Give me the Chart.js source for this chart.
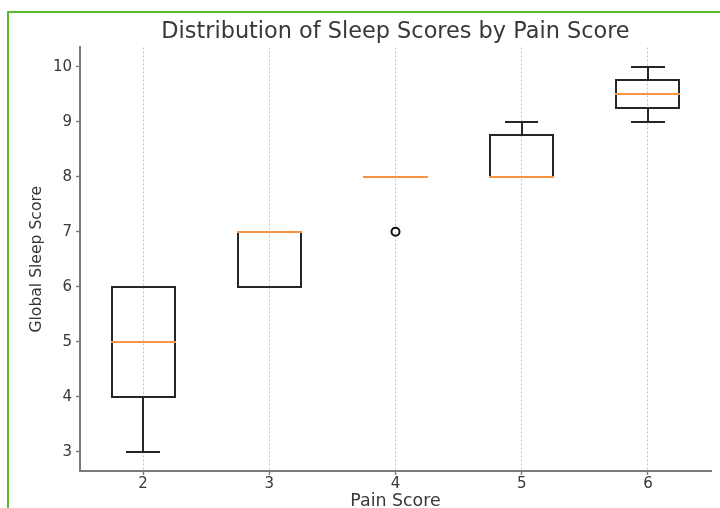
<!DOCTYPE html>
<html>
<head>
<meta charset="utf-8">
<title>Distribution of Sleep Scores by Pain Score</title>
<script src="https://cdn.jsdelivr.net/npm/chart.js@4.4.1/dist/chart.umd.min.js"></script>
<style>
  html, body { margin: 0; padding: 0; background: #ffffff; overflow: hidden; }
  #frame {
    position: absolute; left: 7px; top: 11px; width: 760px; height: 560px;
    border: 2px solid #5cb82f; box-sizing: border-box;
  }
  #chart { position: absolute; left: 0; top: 0; }
</style>
</head>
<body>
<div id="frame"></div>
<canvas id="chart" width="720" height="508"></canvas>
<script>
// Pain score groups along the x axis
const painScores = [2, 3, 4, 5, 6];

// Five-number summaries of the Global Sleep Score per pain group
const whiskerLow  = [3, 6, 8, 8, 9];
const quartile1   = [4, 6, 8, 8, 9.25];
const medians     = [5, 7, 8, 8, 9.5];
const quartile3   = [6, 7, 8, 8.75, 9.75];
const whiskerHigh = [6, 7, 8, 9, 10];

// Points lying outside the whiskers
const outlierPain  = [4];
const outlierSleep = [7];

// Tick values
const xTickValues = [2, 3, 4, 5, 6];
const yTickValues = [3, 4, 5, 6, 7, 8, 9, 10];

const FONT = "'DejaVu Sans', 'Liberation Sans', sans-serif";
const TEXT = '#383838';
const SPINE = '#7a7a7a';
const BOX_COLOR = '#262626';
const MEDIAN_COLOR = '#f79443';
const BOX_WIDTH = 0.5;   // in x-axis units
const CAP_WIDTH = 0.25;
const LINE_W = 2;

// Draws boxes, whiskers, caps and medians using the chart's scales
const boxPlotPlugin = {
  id: 'boxPlot',
  beforeDatasetsDraw(chart) {
    const { ctx, scales: { x, y } } = chart;
    // whole-pixel positions keep 2px strokes crisp and let the median fully cover box edges
    const px = v => Math.round(x.getPixelForValue(v));
    const py = v => Math.round(y.getPixelForValue(v));
    const seg = (x0, y0, x1, y1, color) => {
      ctx.strokeStyle = color;
      ctx.beginPath();
      ctx.moveTo(x0, y0);
      ctx.lineTo(x1, y1);
      ctx.stroke();
    };
    ctx.save();
    ctx.lineWidth = LINE_W;
    ctx.lineCap = 'square';
    painScores.forEach((p, i) => {
      const L = px(p - BOX_WIDTH / 2), R = px(p + BOX_WIDTH / 2);
      const cL = px(p - CAP_WIDTH / 2), cR = px(p + CAP_WIDTH / 2);
      const c = px(p);
      const top = py(quartile3[i]), bot = py(quartile1[i]);
      // box edges
      seg(L, top, R, top, BOX_COLOR);
      seg(L, bot, R, bot, BOX_COLOR);
      seg(L, top, L, bot, BOX_COLOR);
      seg(R, top, R, bot, BOX_COLOR);
      // whiskers
      seg(c, bot, c, py(whiskerLow[i]), BOX_COLOR);
      seg(c, top, c, py(whiskerHigh[i]), BOX_COLOR);
      // caps
      seg(cL, py(whiskerLow[i]), cR, py(whiskerLow[i]), BOX_COLOR);
      seg(cL, py(whiskerHigh[i]), cR, py(whiskerHigh[i]), BOX_COLOR);
    });
    // medians on top
    ctx.lineCap = 'butt';
    painScores.forEach((p, i) => {
      const L = px(p - BOX_WIDTH / 2) - 1, R = px(p + BOX_WIDTH / 2) + 1;
      seg(L, py(medians[i]), R, py(medians[i]), MEDIAN_COLOR);
    });
    ctx.restore();
  }
};

new Chart(document.getElementById('chart'), {
  type: 'scatter',
  data: {
    datasets: [{
      label: 'Outliers',
      data: outlierPain.map((p, i) => ({ x: p, y: outlierSleep[i] })),
      pointRadius: 4,
      pointHoverRadius: 4,
      pointBorderWidth: 2,
      borderColor: '#111111',
      backgroundColor: 'rgba(0,0,0,0)'
    }]
  },
  options: {
    responsive: false,
    animation: false,
    devicePixelRatio: 1,
    layout: { padding: { left: 0, right: 9, top: 0, bottom: 0 } },
    plugins: {
      legend: { display: false },
      tooltip: { enabled: false },
      title: {
        display: true,
        fullSize: false,
        text: 'Distribution of Sleep Scores by Pain Score',
        color: TEXT,
        font: { family: FONT, size: 22.4, weight: 'normal', lineHeight: 1.2 },
        padding: { top: 19, bottom: 1.6 }
      }
    },
    scales: {
      x: {
        type: 'linear',
        min: 1.5,
        max: 6.5,
        afterBuildTicks(scale) { scale.ticks = xTickValues.map(v => ({ value: v })); },
        afterFit(scale) { scale.height = 37; },
        ticks: {
          color: TEXT,
          font: { family: FONT, size: 15 },
          padding: 0,
          maxRotation: 0,
          autoSkip: false
        },
        grid: {
          display: true,
          drawOnChartArea: true,
          drawTicks: true,
          color: '#c4c4c4',
          lineWidth: 1,
          tickColor: SPINE,
          tickLength: 4,
          tickWidth: 1.4
        },
        border: { display: true, color: SPINE, width: 2, dash: [2, 2] },
        title: {
          display: true,
          text: 'Pain Score',
          color: TEXT,
          font: { family: FONT, size: 17.4, lineHeight: 0.75 },
          padding: { top: 0, bottom: 0 }
        }
      },
      y: {
        type: 'linear',
        min: 2.65,
        max: 10.35,
        afterBuildTicks(scale) { scale.ticks = yTickValues.map(v => ({ value: v })); },
        afterFit(scale) { scale.width = 80; },
        ticks: {
          color: TEXT,
          font: { family: FONT, size: 15 },
          padding: 4
        },
        grid: {
          display: true,
          drawOnChartArea: false,
          drawTicks: true,
          tickColor: SPINE,
          tickLength: 4,
          tickWidth: 1.4
        },
        border: { display: true, color: SPINE, width: 2 },
        title: {
          display: true,
          text: 'Global Sleep Score',
          color: TEXT,
          font: { family: FONT, size: 15.6, lineHeight: 1.2 },
          padding: { top: 28, bottom: 0 }
        }
      }
    }
  },
  plugins: [boxPlotPlugin]
});
</script>
</body>
</html>
